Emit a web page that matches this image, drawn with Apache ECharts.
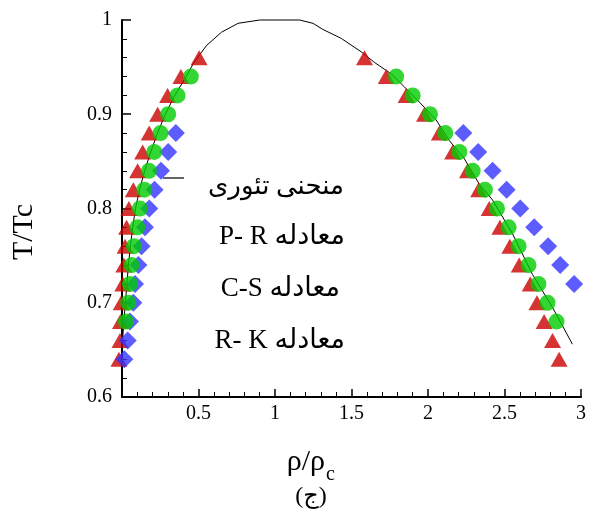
<!DOCTYPE html>
<html>
<head>
<meta charset="utf-8">
<script src="https://cdn.jsdelivr.net/npm/echarts@6/dist/echarts.min.js"></script>
<style>
  html, body { margin: 0; padding: 0; background: #fff; }
  #chart { width: 589px; height: 517px; }
</style>
</head>
<body>
<div id="chart"></div>
<script>
// T/Tc levels used by the markers (left branch bottom -> top, right branch top -> bottom)
const triLeftY  = [0.64, 0.66, 0.68, 0.70, 0.72, 0.74, 0.76, 0.78, 0.80, 0.82, 0.84, 0.86, 0.88, 0.90, 0.92, 0.94, 0.96];
const triLeftX  = [-0.02, -0.013, -0.01, -0.005, 0.005, 0.012, 0.02, 0.03, 0.045, 0.074, 0.102, 0.135, 0.178, 0.233, 0.298, 0.385, 0.504];
const triRightY = [0.96, 0.94, 0.92, 0.90, 0.88, 0.86, 0.84, 0.82, 0.80, 0.78, 0.76, 0.74, 0.72, 0.70, 0.68, 0.66, 0.64];
const triRightX = [1.585, 1.727, 1.857, 1.977, 2.074, 2.161, 2.258, 2.331, 2.40, 2.47, 2.535, 2.596, 2.668, 2.712, 2.759, 2.814, 2.857];

const cirLeftY  = [0.68, 0.70, 0.72, 0.74, 0.76, 0.78, 0.80, 0.82, 0.84, 0.86, 0.88, 0.90, 0.92, 0.94];
const cirLeftX  = [0.026, 0.041, 0.052, 0.063, 0.078, 0.100, 0.117, 0.146, 0.176, 0.211, 0.252, 0.302, 0.363, 0.450];
const cirRightY = [0.94, 0.92, 0.90, 0.88, 0.86, 0.84, 0.82, 0.80, 0.78, 0.76, 0.74, 0.72, 0.70, 0.68];
const cirRightX = [1.792, 1.900, 2.013, 2.113, 2.205, 2.292, 2.372, 2.451, 2.527, 2.592, 2.657, 2.722, 2.781, 2.840];

const diaLeftY  = [0.64, 0.66, 0.68, 0.70, 0.72, 0.74, 0.76, 0.78, 0.80, 0.82, 0.84, 0.86, 0.88];
const diaLeftX  = [0.015, 0.037, 0.052, 0.074, 0.085, 0.107, 0.128, 0.150, 0.178, 0.213, 0.255, 0.302, 0.352];
const diaRightY = [0.88, 0.86, 0.84, 0.82, 0.80, 0.78, 0.76, 0.74, 0.72];
const diaRightX = [2.231, 2.328, 2.422, 2.514, 2.603, 2.694, 2.785, 2.864, 2.955];

// theoretical curve
const curveX = [0.0, 0.004, 0.012, 0.022, 0.032, 0.042, 0.055, 0.07, 0.088, 0.115, 0.148, 0.188, 0.232, 0.283, 0.345, 0.42, 0.47, 0.553, 0.65, 0.759, 0.90,
                1.161, 1.248, 1.313, 1.433, 1.563, 1.65, 1.759, 1.846, 1.955, 2.053, 2.140, 2.237, 2.335, 2.422, 2.553, 2.683, 2.814, 2.944];
const curveY = [0.64, 0.66, 0.68, 0.70, 0.72, 0.74, 0.76, 0.78, 0.80, 0.82, 0.84, 0.86, 0.88, 0.90, 0.92, 0.94, 0.955, 0.973, 0.987, 0.9965, 1.0,
                1.0, 0.9965, 0.990, 0.9805, 0.9663, 0.955, 0.943, 0.929, 0.911, 0.894, 0.872, 0.853, 0.826, 0.809, 0.773, 0.730, 0.695, 0.656];

const legendNames = ['منحنی تئوری', 'P- R معادله', 'C-S معادله', 'R- K معادله'];

const pairs = (xs, ys) => xs.map((x, i) => [x, ys[i]]);
const serif = "'Liberation Serif', 'DejaVu Sans', serif";

const chart = echarts.init(document.getElementById('chart'));

const option = {
  animation: false,
  backgroundColor: '#fff',
  grid: { left: 122, right: 6, top: 20, bottom: 120 },
  xAxis: {
    type: 'value',
    min: 0, max: 3, interval: 0.5,
    axisLine: { lineStyle: { color: '#000', width: 2 } },
    axisTick: { inside: true, length: 8, lineStyle: { color: '#000', width: 1.5 } },
    minorTick: { show: true, splitNumber: 5, length: 5, lineStyle: { color: '#000', width: 1 } },
    splitLine: { show: false },
    axisLabel: {
      color: '#000', fontFamily: serif, fontSize: 20, margin: 7,
      formatter: v => (v === 0 ? '' : String(v))
    }
  },
  yAxis: {
    type: 'value',
    min: 0.6, max: 1, interval: 0.1,
    axisLine: { show: true, lineStyle: { color: '#000', width: 2 } },
    axisTick: { show: true, inside: true, length: 9, lineStyle: { color: '#000', width: 1.5 } },
    minorTick: { show: true, splitNumber: 5, length: 5, lineStyle: { color: '#000', width: 1 } },
    splitLine: { show: false },
    axisLabel: {
      color: '#000', fontFamily: serif, fontSize: 20, margin: 10,
      formatter: v => String(Math.round(v * 10) / 10)
    }
  },
  series: [
    {
      name: legendNames[0], type: 'line', data: pairs(curveX, curveY),
      showSymbol: false, smooth: false, clip: false,
      lineStyle: { color: '#000', width: 1 }, z: 1
    },
    {
      name: legendNames[1], type: 'scatter', clip: false, z: 2,
      symbol: 'triangle', symbolSize: [17, 15],
      itemStyle: { color: '#cc0000' },
      data: pairs(triLeftX, triLeftY).concat(pairs(triRightX, triRightY))
    },
    {
      name: legendNames[3], type: 'scatter', clip: false, z: 3,
      symbol: 'diamond', symbolSize: [18, 18],
      itemStyle: { color: '#3333ff' },
      data: pairs(diaLeftX, diaLeftY).concat(pairs(diaRightX, diaRightY))
    },
    {
      name: legendNames[2], type: 'scatter', clip: false, z: 4,
      symbol: 'circle', symbolSize: 16,
      itemStyle: { color: '#00cc00' },
      data: pairs(cirLeftX, cirLeftY).concat(pairs(cirRightX, cirRightY))
    }
  ],
  graphic: [
    // legend
    { type: 'line', shape: { x1: 163, y1: 178, x2: 184, y2: 178 }, style: { stroke: '#333', lineWidth: 1.5 } },
    { type: 'text', x: 344, y: 187, style: { text: legendNames[0], fill: '#000', font: "26px " + serif, textAlign: 'right', textVerticalAlign: 'middle' } },
    { type: 'text', x: 345, y: 237, style: { text: legendNames[1], fill: '#000', font: "27px " + serif, textAlign: 'right', textVerticalAlign: 'middle' } },
    { type: 'text', x: 340, y: 289, style: { text: legendNames[2], fill: '#000', font: "27px " + serif, textAlign: 'right', textVerticalAlign: 'middle' } },
    { type: 'text', x: 345, y: 341, style: { text: legendNames[3], fill: '#000', font: "27px " + serif, textAlign: 'right', textVerticalAlign: 'middle' } },
    // axis titles
    { type: 'text', x: 24, y: 232, rotation: Math.PI / 2, style: { text: 'T/Tc', fill: '#000', font: "30px " + serif, textAlign: 'center', textVerticalAlign: 'middle' } },
    { type: 'text', x: 325, y: 462, style: { text: 'ρ/ρ', fill: '#000', font: "30px " + serif, textAlign: 'right', textVerticalAlign: 'middle' } },
    { type: 'text', x: 326, y: 475, style: { text: 'c', fill: '#000', font: "20px " + serif, textAlign: 'left', textVerticalAlign: 'middle' } },
    { type: 'text', x: 311, y: 497, style: { text: '(ج)', fill: '#000', font: "24px " + serif, textAlign: 'center', textVerticalAlign: 'middle' } }
  ]
};

chart.setOption(option);
</script>
</body>
</html>
